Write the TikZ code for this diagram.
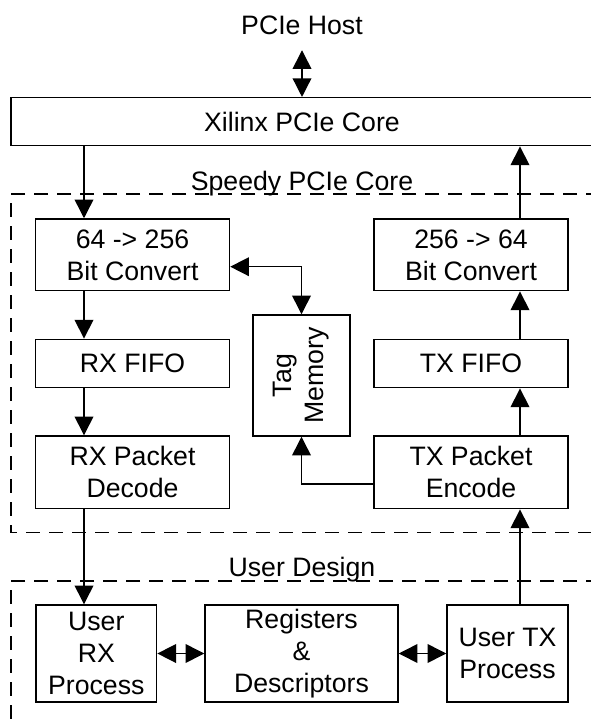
\documentclass[tikz,border=0pt]{standalone}
\usepackage{fontspec}
\setmainfont{Liberation Sans}
\usetikzlibrary{arrows.meta}
\begin{document}
\begin{tikzpicture}[x=0.75pt,y=-0.75pt,
  every node/.style={font=\fontsize{20}{24}\selectfont},
  box/.style={draw, line width=1.1pt, inner sep=0pt, align=center},
  widebox/.style={box, minimum width=145.5pt},
  tip/.style={Triangle[length=14pt,width=14pt]},
  arr/.style={line width=1.1pt, -{Triangle[length=14pt,width=14pt]}},
  dbl/.style={line width=1.1pt, {Triangle[length=14pt,width=14pt]}-{Triangle[length=14pt,width=14pt]}},
  grp/.style={line width=1.1pt, dash pattern=on 10.5pt off 6.75pt},
  ]
\useasboundingbox (0,0) rectangle (590,724);

% group outlines
\draw[grp] (600,194) -- (11,194) -- (11,532.7) -- (600,532.7);
\draw[grp] (600,581) -- (11,581) -- (11,740);
\node[anchor=base, inner sep=0pt] (speedy) at (302,190) {Speedy PCIe Core};
\node[anchor=base, inner sep=0pt] (user) at (302,576.7) {User Design};

% nodes
\node[inner sep=0pt, outer ysep=11.6pt, anchor=base] (host) at (302,34.5) {PCIe Host};
\node[box, minimum width=436.5pt, minimum height=36pt] (xil) at (302,121.7) {Xilinx PCIe Core};
\node[widebox, minimum height=53.8pt] (c64) at (132.5,254.85) {64 -> 256\\Bit Convert};
\node[widebox, minimum height=53.8pt] (c256) at (471,254.85) {256 -> 64\\Bit Convert};
\node[box, minimum width=72.75pt, minimum height=90.75pt] (tag) at (301.5,375.5) {};
\node[rotate=90, align=center, inner sep=0pt] (tagtxt) at (tag.center) {Tag\\Memory};
\node[widebox, minimum height=36.3pt] (rxf) at (132.5,363.5) {RX FIFO};
\node[widebox, minimum height=36.3pt] (txf) at (471,363.5) {TX FIFO};
\node[widebox, minimum height=54.5pt] (rxd) at (132.5,472.35) {RX Packet\\Decode};
\node[widebox, minimum height=54.5pt] (txe) at (471,472.35) {TX Packet\\Encode};
\node[box, minimum width=90.5pt, minimum height=72.75pt] (urx) at (96.3,653.5) {User\\RX\\Process};
\node[box, minimum width=144.75pt, minimum height=72.75pt] (reg) at (301.5,653.5) {Registers\\\&\\Descriptors};
\node[box, minimum width=90.75pt, minimum height=72.75pt] (utx) at (507.5,653.5) {User TX\\Process};

% helper coordinates
\coordinate (rxl) at (84,0);
\coordinate (txl) at (520,0);
\coordinate (tagin) at (0,266.7);
\coordinate (tagout) at (0,484);

% connectors
\draw[dbl] (host.south) -- (xil.north);
\draw[arr] (xil.south -| rxl) -- (c64.north -| rxl);
\draw[arr] (c64.south -| rxl) -- (rxf.north -| rxl);
\draw[arr] (rxf.south -| rxl) -- (rxd.north -| rxl);
\draw[arr] (rxd.south -| rxl) -- (urx.north -| rxl);
\draw[arr] (utx.north -| txl) -- (txe.south -| txl);
\draw[arr] (txe.north -| txl) -- (txf.south -| txl);
\draw[arr] (txf.north -| txl) -- (c256.south -| txl);
\draw[arr] (c256.north -| txl) -- (xil.south -| txl);
\draw[dbl] (tag.north) |- (c64.east |- tagin);
\draw[arr] (txe.west |- tagout) -| (tag.south);
\draw[dbl] (urx.east) -- (reg.west);
\draw[dbl] (reg.east) -- (utx.west);
\end{tikzpicture}
\end{document}
